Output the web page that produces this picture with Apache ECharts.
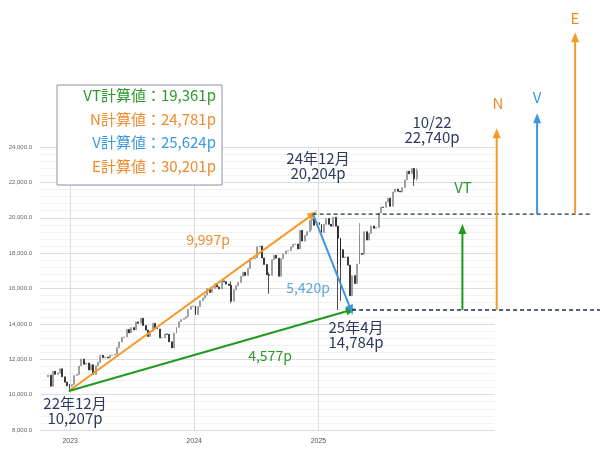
<!DOCTYPE html><html><head><meta charset="utf-8">
<script src="https://cdn.jsdelivr.net/npm/echarts@6/dist/echarts.min.js"></script>
<style>html,body{margin:0;background:#fff}#c{width:600px;height:455px}</style></head><body><div id="c"></div><script>
// Weekly closes
const weekStart = '2022-10-28';
const closes = [11102,10475,11323,11146,11226,11461,11005,10705,10497,10466,
10569,11079,11140,11622,12007,11718,11787,11395,11689,11138,11631,11824,12222,12088,12123,12072,12227,12235,12284,12658,12976,13241,13259,13689,13492,13788,13661,14113,14032,14316,13909,13644,13290,13590,14031,13761,13708,13212,13219,13431,13407,12984,12643,13478,13798,14125,14250,14305,14404,14814,14992,15011,
14524,14973,15311,15455,15629,15991,15776,15997,16275,16085,15973,16429,16379,16249,16175,15282,15928,16156,16341,16686,16921,16735,17133,17689,17689,17733,18353,18398,17727,17358,16776,16745,17632,17878,17714,16691,17684,17948,18120,18138,18343,18490,18519,18239,19287,18680,19004,19218,19860,19927,19573,19722,
19622,19162,19630,19954,19627,19523,20027,19524,18847,18196,17754,17784,17323,15588,16724,16286,17383,17978,17929,19211,18737,19114,19530,19407,19447,20273,20601,20586,20896,21108,20650,21450,21623,21496,21456,21700,22141,22631,22484,22781,22204,22680];
// Notable wicks: [weekIndex, low, high]
const wicks = [[9,10207,10600],[77,15200,16400],[93,15700,16900],[111,19300,20204],[122,14784,17400],[123,15300,17200],[131,19000,19700],[154,21800,22740],[155,22100,22800]];
const yTicks = [8000,24000];
const yearLines = ['2023-01-01','2024-01-01','2025-01-01'];
const legendLines = [['VT計算値：19,361p','#2a9a2a'],['N計算値：24,781p','#f08a2c'],['V計算値：25,624p','#3d97e0'],['E計算値：30,201p','#f08a2c']];
const calc = {VT:19361, N:24781, V:25624, E:30201};
const pts = {start:['2022-12-28',10207], peak:['2024-12-16',20204], low:['2025-04-07',14784]};

const DAY=86400000, t0=new Date(weekStart).getTime();
const wmap={}; wicks.forEach(w=>wmap[w[0]]=w);
const candles = closes.map((c,i)=>{const o=i?closes[i-1]:11000; let lo=Math.min(o,c), hi=Math.max(o,c);
  if(wmap[i]){lo=wmap[i][1];hi=wmap[i][2];} return [t0+i*7*DAY,o,c,lo,hi];});
const xMin=new Date('2022-10-04').getTime(), xMax=new Date('2026-06-05').getTime();
const x2Max = xMin + (xMax-xMin)*560/455;
const textC='#2b3a5c';
const dt=s=>new Date(s).getTime();
const line=(a,b,color,arrow,dash)=>({type:'line',xAxisIndex:1,yAxisIndex:1,data:[a,b],symbol:'none',silent:true,
  lineStyle:{color,width:dash?1.3:2,type:dash?[4,3]:'solid'},z:5,
  markPoint: arrow?{symbol:'triangle',symbolSize:[8,10],data:[{coord:b,symbolRotate:0}],itemStyle:{color},label:{show:false}}:undefined});
const chart=echarts.init(document.getElementById('c'));
const opt={animation:false,
 grid:[{left:40,right:105,top:147,bottom:25},{left:40,right:0,top:5.5,bottom:25}],
 xAxis:[{type:'time',min:xMin,max:xMax,splitNumber:3,axisLine:{show:false},axisTick:{show:false},
   axisLabel:{fontSize:7,color:'#555',formatter:v=>{const d=new Date(v);return (d.getMonth()===0&&d.getFullYear()<2026)?String(d.getFullYear()):'';}},
   splitLine:{show:false}},
  {type:'time',gridIndex:1,min:xMin,max:x2Max,show:false}],
 yAxis:[{type:'value',min:yTicks[0],max:yTicks[1],interval:2000,axisLabel:{fontSize:6,color:'#666',formatter:v=>v.toLocaleString('en-US',{minimumFractionDigits:1})},
   splitLine:{lineStyle:{color:'#ddd'}},minorTick:{show:false},minorSplitLine:{show:true,lineStyle:{color:'#f2f2f2'}}},
  {type:'value',gridIndex:1,min:8000,max:32000,show:false}],
 series:[{type:'candlestick',data:candles,barMaxWidth:4,itemStyle:{color:'#f4f4f4',color0:'#222',borderColor:'#888',borderColor0:'#222',borderWidth:0.8},
   markLine:{silent:true,symbol:'none',label:{show:false},lineStyle:{color:'#ddd',type:'solid',width:1},data:yearLines.map(s=>({xAxis:dt(s)}))}},
  line(pts.start,pts.peak,'#f39a28',1,false),
  line(pts.start,pts.low,'#1f9a1f',1,false),
  line(pts.peak,pts.low,'#3d97e0',1,false),
  line([dt('2024-12-15'),20204],[dt('2027-03-12'),20204],'#1e2e5a',0,true),
  line([dt('2025-04-10'),14784],[dt('2027-06-01'),14784],'#1e2e5a',0,true),
  line([dt('2026-03-01'),14784],[dt('2026-03-01'),calc.VT],'#1f9a1f',1,false),
  line([dt('2026-06-10'),14784],[dt('2026-06-10'),calc.N],'#f39a28',1,false),
  line([dt('2026-10-07'),20204],[dt('2026-10-07'),calc.V],'#3d97e0',1,false),
  line([dt('2027-01-27'),20204],[dt('2027-01-27'),calc.E],'#f39a28',1,false)
 ],
 graphic:[]};
chart.setOption(opt);
const P=p=>chart.convertToPixel({xAxisIndex:1,yAxisIndex:1},[typeof p[0]==='string'?dt(p[0]):p[0],p[1]]);
opt.series.forEach((s,i)=>{if(s.markPoint){const a=P(s.data[0]),b=P(s.data[1]);
  const r=Math.atan2(b[1]-a[1],b[0]-a[0]); s.markPoint.data[0].symbolRotate=-(r*180/Math.PI)-90;}});
const T=(x,y,t,c,size,align)=>({type:'text',x,y,style:{text:t,fill:c,font:(size||14)+'px "Noto Sans CJK JP"',align:align||'center'},z:10});
const g=[{type:'rect',shape:{x:57,y:85,width:165,height:100},style:{fill:'#fff',stroke:'#8a93a8',lineWidth:1},z:9}];
legendLines.forEach((l,i)=>g.push(T(216,88+i*23.5,l[0],l[1],15,'right')));
g.push(T(75,396,'22年12月\n10,207p',textC,15),T(318,151,'24年12月\n20,204p',textC,15),
 T(356,320,'25年4月\n14,784p',textC,15),T(432,115,'10/22\n22,740p',textC,15),
 T(208,233,'9,997p','#f08a2c',14),T(308,281,'5,420p','#5aa6e0',14),T(270,349,'4,577p','#2a9a2a',14),
 T(463,180,'VT','#2a9a2a',15),T(498,96,'N','#f08a2c',15),T(537,90,'V','#3d97e0',15),T(575,11,'E','#f08a2c',15));
opt.graphic=g;
chart.setOption(opt);
</script></body></html>
